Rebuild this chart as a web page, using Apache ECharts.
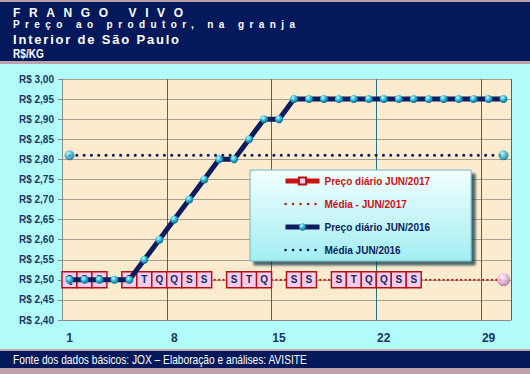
<!DOCTYPE html>
<html><head><meta charset="utf-8">
<script src="https://cdn.jsdelivr.net/npm/echarts@6/dist/echarts.min.js"></script>
<style>html,body{margin:0;padding:0;background:#b2fbfb}#c{width:530px;height:374px}</style>
</head><body><div id="c"></div>
<script>
// ---------- data ----------
const dias = ['1','2','3','4','5','6','7','8','9','10','11','12','13','14','15','16','17','18','19','20','21','22','23','24','25','26','27','28','29','30'];
const preco2016 = [2.50,2.50,2.50,2.50,2.50,2.55,2.60,2.65,2.70,2.75,2.80,2.80,2.85,2.90,2.90,2.95,2.95,2.95,2.95,2.95,2.95,2.95,2.95,2.95,2.95,2.95,2.95,2.95,2.95,2.95];
const media2016 = [2.81,2.81,2.81,2.81,2.81,2.81,2.81,2.81,2.81,2.81,2.81,2.81,2.81,2.81,2.81,2.81,2.81,2.81,2.81,2.81,2.81,2.81,2.81,2.81,2.81,2.81,2.81,2.81,2.81,2.81];
const preco2017 = [2.50,2.50,2.50,null,2.50,2.50,2.50,2.50,2.50,2.50,null,2.50,2.50,2.50,null,2.50,2.50,null,2.50,2.50,2.50,2.50,2.50,2.50,null,null,null,null,null,null];
const diaSemana2017 = ['Q','S','S','','S','T','Q','Q','S','S','','S','T','Q','','S','S','','S','T','Q','Q','S','S','','','','','',''];
const media2017 = [2.50,2.50,2.50,2.50,2.50,2.50,2.50,2.50,2.50,2.50,2.50,2.50,2.50,2.50,2.50,2.50,2.50,2.50,2.50,2.50,2.50,2.50,2.50,2.50,2.50,2.50,2.50,2.50,2.50,2.50];
const yMin = 2.40, yMax = 3.00, yStep = 0.05;
const xLabelDays = ['1','8','15','22','29'];
const nomes = ['Preço diário JUN/2017','Média - JUN/2017','Preço diário JUN/2016','Média JUN/2016'];

const SPACING = {'FRANGO VIVO':8.6, 'Preço ao produtor, na granja':5.4, 'Interior de São Paulo':1.8};

const NAVY = '#03195b', MAUVE = '#bea2a9', RED = '#cc1111', DARK = '#0c1c5e', LBL = '#1b3563';
const FONT = 'Arial, "Liberation Sans", sans-serif';
const cyanBall = {type:'radial', x:0.38, y:0.32, r:0.7, colorStops:[{offset:0,color:'#d4fbff'},{offset:0.45,color:'#2fbcdc'},{offset:1,color:'#0a6a8c'}]};
const pinkBall = {type:'radial', x:0.38, y:0.32, r:0.7, colorStops:[{offset:0,color:'#fff4ff'},{offset:0.5,color:'#e6b2e2'},{offset:1,color:'#a46aa0'}]};

const chart = echarts.init(document.getElementById('c'), null, {renderer:'svg'});
chart.setOption({
  animation: false,
  backgroundColor: '#b2fbfb',
  graphic: [
    {type:'rect', silent:true, z:-5, shape:{x:0,y:0,width:530,height:2}, style:{fill:MAUVE}},
    {type:'rect', silent:true, z:-5, shape:{x:0,y:2,width:530,height:59}, style:{fill:NAVY}},
    {type:'rect', silent:true, z:-5, shape:{x:0,y:61,width:530,height:3}, style:{fill:MAUVE}},
    {type:'rect', silent:true, z:-5, shape:{x:0,y:349,width:530,height:2}, style:{fill:MAUVE}},
    {type:'rect', silent:true, z:-5, shape:{x:0,y:351,width:530,height:17}, style:{fill:NAVY}},
    {type:'rect', silent:true, z:-5, shape:{x:0,y:368,width:530,height:6}, style:{fill:MAUVE}},
    {type:'text', silent:true, x:13, y:13, style:{text:'FRANGO VIVO', fill:'#fff', font:'bold 12px '+FONT, verticalAlign:'middle'}},
    {type:'text', silent:true, x:13, y:24.5, style:{text:'Preço ao produtor, na granja', fill:'#fff', font:'bold 10px '+FONT, verticalAlign:'middle'}},
    {type:'text', silent:true, x:13, y:39, style:{text:'Interior de São Paulo', fill:'#fff', font:'bold 13px '+FONT, verticalAlign:'middle'}},
    {type:'text', silent:true, x:13, y:54, scaleX:0.84, style:{text:'R$/KG', fill:'#fff', font:'bold 12px '+FONT, verticalAlign:'middle'}},
    {type:'text', silent:true, x:13, y:359.5, scaleX:0.85, style:{text:'Fonte dos dados básicos: JOX – Elaboração e análises: AVISITE', fill:'#fff', font:'12px '+FONT, verticalAlign:'middle'}}
  ],
  grid: {left:62, right:19, top:79, bottom:54, show:true, backgroundColor:'#fdebcf', borderWidth:0},
  legend: {
    orient:'vertical', left:250, top:170, width:220,
    padding:[6,41,6,33], itemWidth:34, itemHeight:9, itemGap:13,
    backgroundColor:{type:'linear', x:0, y:0, x2:0, y2:1, colorStops:[{offset:0,color:'#f2ffff'},{offset:1,color:'#a2eef2'}]},
    borderColor:'#6cb6c2', borderWidth:1,
    shadowBlur:2, shadowOffsetX:4, shadowOffsetY:4, shadowColor:'rgba(0,45,65,0.7)',
    textStyle:{fontFamily:FONT, fontWeight:'bold', fontSize:10},
    data:[
      {name:nomes[0], textStyle:{color:RED}, lineStyle:{width:5}},
      {name:nomes[1], textStyle:{color:RED}, lineStyle:{width:2.4, type:[0.1,7.4]}, itemStyle:{color:'rgba(0,0,0,0)', borderColor:'rgba(0,0,0,0)', borderWidth:0}},
      {name:nomes[2], textStyle:{color:DARK}, lineStyle:{width:5}},
      {name:nomes[3], textStyle:{color:DARK}, lineStyle:{width:2.6, type:[0.1,7.4]}, itemStyle:{color:'rgba(0,0,0,0)', borderColor:'rgba(0,0,0,0)', borderWidth:0}}
    ]
  },
  xAxis: {
    type:'category', data:dias, boundaryGap:true,
    axisLine:{show:true, lineStyle:{color:'#8c8c8c', width:1}},
    axisTick:{show:false},
    axisLabel:{interval:(i,v)=>xLabelDays.indexOf(v)>=0, margin:12, color:LBL, fontFamily:FONT, fontWeight:'bold', fontSize:12},
    splitLine:{show:true, interval:(i,v)=>i>0 && xLabelDays.indexOf(v)>=0, lineStyle:{color:'#2a7476', width:1}}
  },
  yAxis: {
    type:'value', min:yMin, max:yMax, interval:yStep,
    axisLine:{show:true, lineStyle:{color:'#8c8c8c', width:1}},
    axisTick:{show:true, length:4, lineStyle:{color:'#8c8c8c'}},
    axisLabel:{margin:8, color:LBL, fontFamily:FONT, fontWeight:'bold', fontSize:10,
      formatter:v=>'R$ '+v.toFixed(2).replace('.',',')},
    splitLine:{show:true, lineStyle:{color:'#a9a291', width:1}}
  },
  series: [
    {name:nomes[1], type:'line', z:2, data:media2017, symbol:'none', silent:true,
     lineStyle:{color:RED, width:2.2, type:[0.1,4.3], cap:'round'}, itemStyle:{color:RED}},
    {name:nomes[0], type:'line', z:3, data:preco2017, connectNulls:false, silent:true,
     symbol:'rect', symbolSize:[15,16], showAllSymbol:true,
     lineStyle:{color:RED, width:5},
     itemStyle:{color:'#f5ccee', borderColor:'#b51212', borderWidth:1.5},
     label:{show:true, position:'inside', formatter:p=>diaSemana2017[p.dataIndex], color:'#1a2a5c', fontFamily:FONT, fontWeight:'bold', fontSize:10}},
    {name:nomes[2], type:'line', z:4, data:preco2016, silent:true,
     symbol:'circle', symbolSize:8, showAllSymbol:true,
     lineStyle:{color:DARK, width:5},
     itemStyle:{color:cyanBall, borderWidth:0}},
    {name:nomes[3], type:'line', z:5, data:media2016, symbol:'none', silent:true,
     lineStyle:{color:DARK, width:3, type:[0.1,7.2], cap:'round'}, itemStyle:{color:DARK}},
    {name:'fim2016', type:'scatter', z:6, silent:true, symbolSize:10,
     data:[[dias[0], media2016[0]], [dias[29], media2016[29]]], itemStyle:{color:cyanBall}},
    {name:'fim2017', type:'scatter', z:6, silent:true, symbolSize:13,
     data:[[dias[29], media2017[29]]], itemStyle:{color:pinkBall}}
  ]
});
function applySpacing(){
  document.querySelectorAll('#c svg text').forEach(el=>{
    const sp = SPACING[el.textContent];
    if (sp !== undefined) { el.setAttribute('letter-spacing', sp); el.style.letterSpacing = sp + 'px'; }
  });
}
applySpacing();
chart.on('finished', applySpacing);
setTimeout(applySpacing, 0);
</script></body></html>
